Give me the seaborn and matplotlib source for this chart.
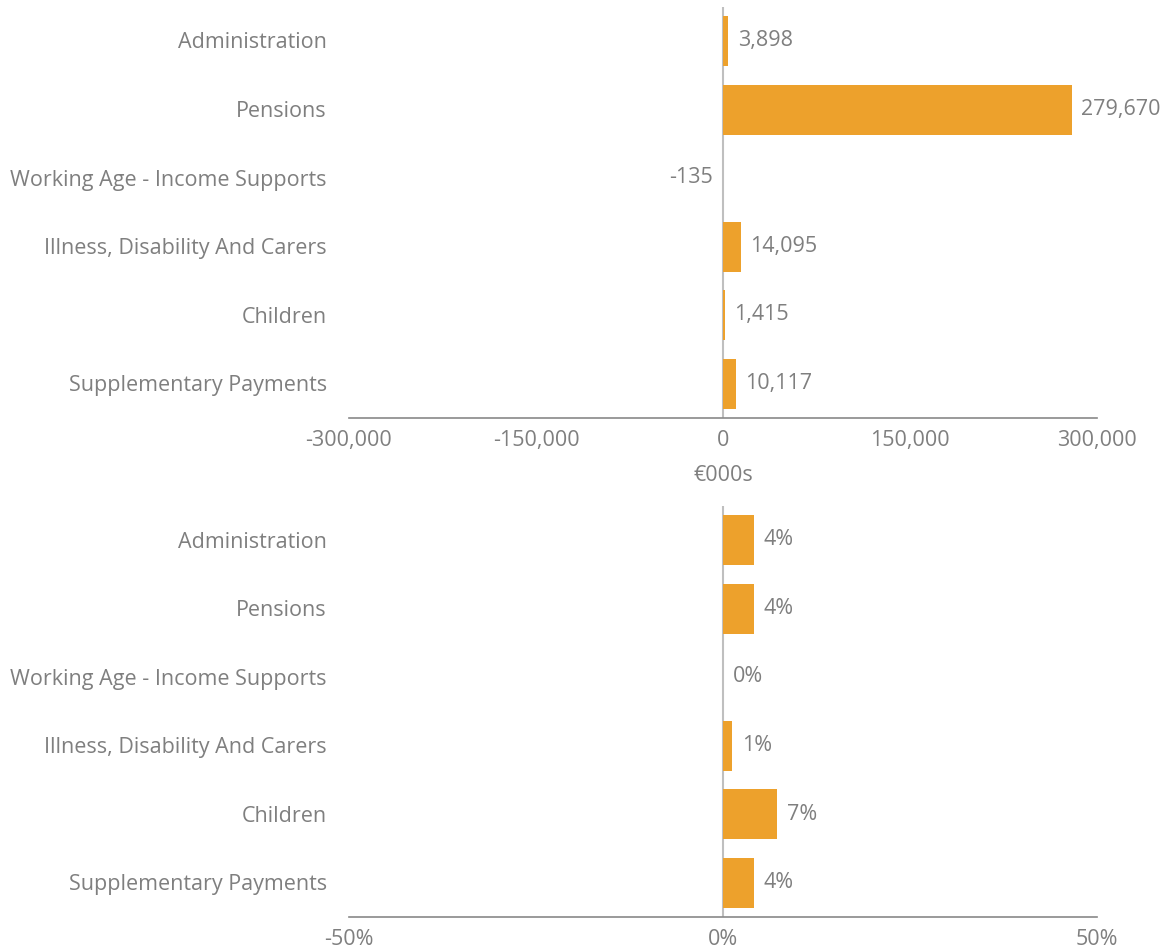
import matplotlib
matplotlib.use("Agg")
import matplotlib.pyplot as plt
import matplotlib.transforms as mtransforms
import seaborn as sns
import pandas as pd

categories = ["Administration", "Pensions", "Working Age - Income Supports",
              "Illness, Disability And Carers", "Children", "Supplementary Payments"]
change_eur000 = [3898, 279670, -135, 14095, 1415, 10117]
change_pct = [4.1, 4.1, 0.0, 1.2, 7.2, 4.1]
pct_labels = ["4%", "4%", "0%", "1%", "7%", "4%"]
top_ticks = [-300000, -150000, 0, 150000, 300000]
top_tick_labels = ["-300,000", "-150,000", "0", "150,000", "300,000"]
bottom_ticks = [-50, 0, 50]
bottom_tick_labels = ["-50%", "0%", "50%"]
x_title = "€000s"

BAR = "#EDA12C"
TXT = "#7F7F7F"
FS = 15.5

sns.set_theme(style="white")
plt.rcParams["font.family"] = ["Open Sans", "DejaVu Sans"]

fig = plt.figure(figsize=(11.65, 9.53), dpi=100)
W, H = 1165, 953
ax1 = fig.add_axes([349 / W, 1 - 419 / H, 748 / W, (419 - 7.7) / H])
ax2 = fig.add_axes([349 / W, 1 - 918.3 / H, 748 / W, (918.3 - 506.7) / H])

df1 = pd.DataFrame({"cat": categories, "val": change_eur000})
df2 = pd.DataFrame({"cat": categories, "val": change_pct})

lift = mtransforms.ScaledTranslation(0, 1.5 / 100, fig.dpi_scale_trans)

def style(ax, df, lim, ticks, ticklabels, labels):
    sns.barplot(data=df, x="val", y="cat", orient="h", color=BAR, width=0.73,
                saturation=1, linewidth=0, ax=ax, zorder=2)
    ax.set_xlim(-lim, lim)
    ax.set_ylim(len(categories) - 0.5, -0.5)
    ax.set_xticks(ticks)
    ax.set_xticklabels(ticklabels)
    ax.tick_params(axis="both", length=0, labelcolor=TXT, labelsize=FS)
    ax.tick_params(axis="x", pad=8)
    ax.tick_params(axis="y", pad=16)
    for lab in ax.get_yticklabels():
        lab.set_transform(lab.get_transform() + lift)
    ax.set_ylabel("")
    ax.set_xlabel("")
    for s in ["top", "right", "left"]:
        ax.spines[s].set_visible(False)
    ax.spines["bottom"].set_color("#898989")
    ax.spines["bottom"].set_linewidth(1.2)
    ax.axvline(0, color="#BFBFBF", lw=1.5, zorder=1)
    anns = ax.bar_label(ax.containers[0], labels=labels, padding=7, color=TXT, fontsize=FS)
    for a in anns:
        dx, dy = a.xyann
        a.xyann = (dx, dy + 1)

style(ax1, df1, 300000, top_ticks, top_tick_labels,
      [f"{v:,}" for v in change_eur000])
ax1.set_xlabel(x_title, color=TXT, fontsize=FS, labelpad=10)
style(ax2, df2, 50, bottom_ticks, bottom_tick_labels, pct_labels)

fig.savefig("out.png", dpi=100)
